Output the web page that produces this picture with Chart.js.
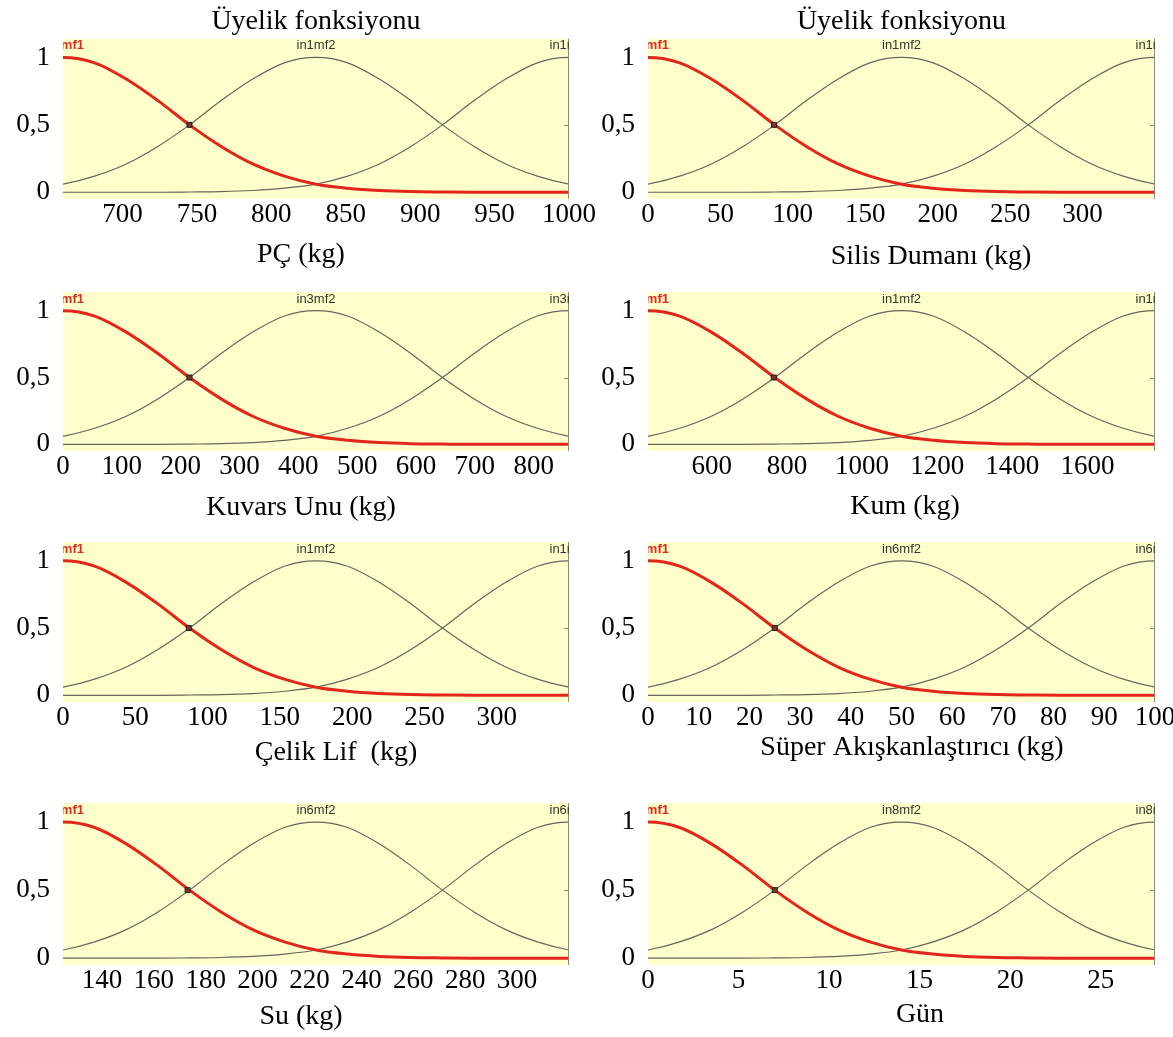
<!DOCTYPE html>
<html>
<head>
<meta charset="utf-8">
<script src="https://cdn.jsdelivr.net/npm/chart.js@4.4.1/dist/chart.umd.min.js"></script>
<style>
    html, body { margin: 0; padding: 0; background: #fff; width: 1173px; height: 1037px; overflow: hidden; }
    canvas { position: absolute; }
</style>
</head>
<body>
<script>
"use strict";

// where the curve samples sit across each input range (0 = min, 1 = max);
// one sample on each side lies just outside the visible range
const samplePos = [-0.0625, 0, 0.0625, 0.125, 0.1875, 0.25, 0.3125, 0.375, 0.4375, 0.5,
                   0.5625, 0.625, 0.6875, 0.75, 0.8125, 0.875, 0.9375, 1, 1.0625];
// membership degrees (same shape in every panel)
const mf1 = [0.96, 1, 0.96, 0.84, 0.68, 0.5, 0.34, 0.21, 0.12, 0.06, 0.03, 0.013, 0.005, 0.002, 0, 0, 0, 0, 0];
const mf2 = [0.03, 0.06, 0.12, 0.21, 0.34, 0.5, 0.68, 0.84, 0.96, 1, 0.96, 0.84, 0.68, 0.5, 0.34, 0.21, 0.12, 0.06, 0.03];
const mf3 = [0, 0, 0, 0, 0, 0.002, 0.005, 0.013, 0.03, 0.06, 0.12, 0.21, 0.34, 0.5, 0.68, 0.84, 0.96, 1, 0.96];

const axisTitles = ["PÇ (kg)", "Silis Dumanı (kg)", "Kuvars Unu (kg)", "Kum (kg)",
                    "Çelik Lif  (kg)", "Süper Akışkanlaştırıcı (kg)", "Su (kg)", "Gün"];
const inputNames = ["in1", "in1", "in3", "in1", "in1", "in6", "in6", "in8"];
const xMin = [660, 0, 0, 430, 0, 0, 125, 0];
const xMax = [1000, 350, 860, 1780, 350, 100, 320, 28];
const crossX = [745, 87, 215, 765, 87, 25, 173, 7];
const xTicks = [
    [700, 750, 800, 850, 900, 950, 1000],
    [0, 50, 100, 150, 200, 250, 300],
    [0, 100, 200, 300, 400, 500, 600, 700, 800],
    [600, 800, 1000, 1200, 1400, 1600],
    [0, 50, 100, 150, 200, 250, 300],
    [0, 10, 20, 30, 40, 50, 60, 70, 80, 90, 100],
    [140, 160, 180, 200, 220, 240, 260, 280, 300],
    [0, 5, 10, 15, 20, 25],
];
const yTickValues = [0, 0.5, 1];
const yTickLabels = ["0", "0,5", "1"];
const panelTitle = "Üyelik fonksiyonu";

// page layout (pixels)
const rowPlotTop = [38, 292, 542, 803];
const rowPlotBottom = [199, 451, 702, 965];
const colLeft = [0, 585];
const colWidth = [600, 588];
const colPlotRight = [569, 1155];
const captionX = [301, 931, 301, 905, 336, 912, 301, 920];
const captionY = [255, 257, 508, 507, 753, 748, 1017, 1015];

const SERIF = "'Liberation Serif', 'Times New Roman', serif";
const SANS = "'Liberation Sans', Arial, sans-serif";

const panelDecor = {
    id: "panelDecor",
    beforeDatasetsDraw(chart) {
        const a = chart.chartArea, ctx = chart.ctx;
        ctx.save();
        ctx.fillStyle = "#ffffcc";
        ctx.fillRect(a.left, a.top, a.width, a.height);
        ctx.restore();
    },
    afterDatasetsDraw(chart, args, opts) {
        const a = chart.chartArea, ctx = chart.ctx;
        const xs = chart.scales.x, ys = chart.scales.y;
        ctx.save();
        ctx.strokeStyle = "#8a8a80";
        ctx.lineWidth = 1;
        ctx.beginPath();
        ctx.moveTo(a.right - 0.5, a.top);
        ctx.lineTo(a.right - 0.5, a.bottom);
        const yHalf = Math.round(ys.getPixelForValue(0.5)) + 0.5;
        ctx.moveTo(a.right - 5, yHalf);
        ctx.lineTo(a.right, yHalf);
        ctx.stroke();

        ctx.beginPath();
        ctx.rect(a.left, a.top, a.width, a.height);
        ctx.clip();
        ctx.textAlign = "center";
        ctx.textBaseline = "middle";
        const at = [xs.min, (xs.min + xs.max) / 2, xs.max];
        at.forEach((v, i) => {
            ctx.font = (i === 0 ? "bold " : "") + "13px " + SANS;
            ctx.fillStyle = i === 0 ? "#e0281c" : "#34342a";
            ctx.fillText(opts.name + "mf" + (i + 1), xs.getPixelForValue(v), a.top + 7);
        });
        ctx.restore();
    },
    afterDraw(chart, args, opts) {
        const ctx = chart.ctx;
        ctx.save();
        ctx.font = "28px " + SERIF;
        ctx.fillStyle = "#000";
        ctx.textAlign = "center";
        ctx.textBaseline = "middle";
        ctx.fillText(opts.caption, opts.cx, opts.cy);
        ctx.restore();
    },
};

for (let i = 0; i < 8; i++) {
    const row = Math.floor(i / 2), col = i % 2;
    const top = rowPlotTop[row] - 38;
    const height = rowPlotBottom[row] - rowPlotTop[row] + 38 + 81;
    const canvas = document.createElement("canvas");
    canvas.width = colWidth[col];
    canvas.height = height;
    canvas.style.left = colLeft[col] + "px";
    canvas.style.top = top + "px";
    document.body.appendChild(canvas);

    const pts = (vals) => samplePos.map((p, k) => ({ x: xMin[i] + p * (xMax[i] - xMin[i]), y: vals[k] }));
    const curve = (vals, color, width) => ({
        type: "line",
        data: pts(vals),
        borderColor: color,
        borderWidth: width,
        pointRadius: 0,
        cubicInterpolationMode: "monotone",
        fill: false,
        clip: 0,
    });

    new Chart(canvas, {
        type: "line",
        data: {
            datasets: [
                {
                    type: "scatter",
                    data: [{ x: crossX[i], y: 0.5 }],
                    pointStyle: "rect",
                    pointRadius: 3.5,
                    backgroundColor: "#7a3524",
                    borderColor: "#202020",
                    borderWidth: 1,
                    showLine: false,
                },
                curve(mf1, "#e3261b", 3),
                curve(mf2, "#66665a", 1.2),
                curve(mf3, "#66665a", 1.2),
            ],
        },
        plugins: [panelDecor],
        options: {
            responsive: false,
            animation: false,
            events: [],
            layout: {
                padding: { top: row === 0 ? 0 : 38, right: colLeft[col] + colWidth[col] - colPlotRight[col], left: 0, bottom: 0 },
            },
            scales: {
                x: {
                    type: "linear",
                    min: xMin[i],
                    max: xMax[i],
                    grid: { display: false, drawTicks: false },
                    border: { display: false },
                    afterBuildTicks: (s) => { s.ticks = xTicks[i].map((v) => ({ value: v })); },
                    afterFit: (s) => { s.height = 81; s.paddingRight = Math.min(s.paddingRight, 10); },
                    ticks: {
                        autoSkip: false,
                        maxRotation: 0,
                        padding: 0,
                        color: "#000",
                        font: { family: SERIF, size: 27 },
                        callback: (v) => String(v),
                    },
                },
                y: {
                    min: -0.05,
                    max: 1.14,
                    grid: { display: false, drawTicks: false },
                    border: { display: false },
                    afterBuildTicks: (s) => { s.ticks = yTickValues.map((v) => ({ value: v })); },
                    afterFit: (s) => { s.width = 63; },
                    ticks: {
                        padding: 13,
                        color: "#000",
                        font: { family: SERIF, size: 27 },
                        callback: (v) => yTickLabels[yTickValues.indexOf(v)],
                    },
                },
            },
            plugins: {
                legend: { display: false },
                tooltip: { enabled: false },
                title: {
                    display: row === 0,
                    text: panelTitle,
                    fullSize: false,
                    color: "#000",
                    font: { family: SERIF, size: 28, weight: "normal" },
                    padding: { top: 5, bottom: 0 },
                },
                panelDecor: {
                    name: inputNames[i],
                    caption: axisTitles[i],
                    cx: captionX[i] - colLeft[col],
                    cy: captionY[i] - top,
                },
            },
        },
    });
}
</script>
</body>
</html>
